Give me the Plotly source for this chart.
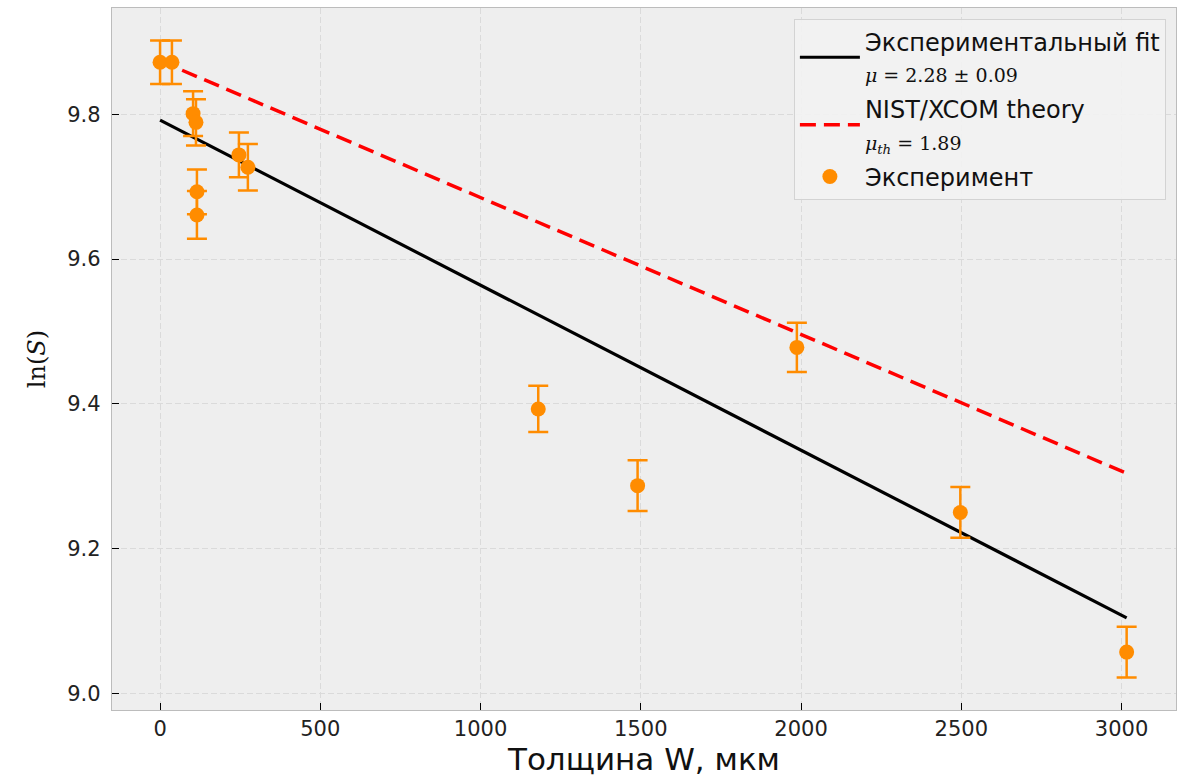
import plotly.graph_objects as go

# ---- data ----
thickness_um = [0, 37, 103, 112, 115, 115, 246, 274, 1180, 1490, 1987, 2497, 3016]
ln_S = [9.872, 9.872, 9.801, 9.789, 9.693, 9.661, 9.744, 9.727, 9.393, 9.287, 9.478, 9.250, 9.057]
ln_S_err = [0.030, 0.030, 0.031, 0.032, 0.031, 0.033, 0.031, 0.032, 0.032, 0.035, 0.034, 0.035, 0.035]

mu_fit = 2.28        # cm^-1
mu_fit_err = 0.09
fit_intercept = 9.792
mu_th = 1.89         # cm^-1
th_intercept = 9.874

line_x = [min(thickness_um), max(thickness_um)]
fit_y = [fit_intercept - mu_fit * 1e-4 * x for x in line_x]
th_y = [th_intercept - mu_th * 1e-4 * x for x in line_x]

x_ticks = [0, 500, 1000, 1500, 2000, 2500, 3000]
y_ticks = [9.0, 9.2, 9.4, 9.6, 9.8]

ORANGE = "#ff8c00"
MATH = "font-family:'DejaVu Serif';font-size:19px"

fig = go.Figure()
fig.add_trace(go.Scatter(
    x=line_x, y=fit_y, mode="lines", legendgroup="g1",
    line=dict(color="black", width=3.2),
    name=f"Экспериментальный fit<br><span style=\"{MATH}\"><i>μ</i> = {mu_fit:.2f} ± {mu_fit_err:.2f}</span>",
))
fig.add_trace(go.Scatter(
    x=line_x, y=th_y, mode="lines", legendgroup="g2",
    line=dict(color="#ff0000", width=3.5, dash="16px,8px"),
    name=f"NIST/XCOM theory<br><span style=\"{MATH}\"><i>μ<sub>th</sub></i> = {mu_th:.2f}</span>",
))
fig.add_trace(go.Scatter(
    x=thickness_um, y=ln_S, mode="markers", legendgroup="g3",
    marker=dict(color=ORANGE, size=15),
    error_y=dict(type="data", array=ln_S_err, visible=True, color=ORANGE, thickness=2.5, width=10),
    name="Эксперимент",
))

fig.update_layout(
    width=1188, height=783,
    margin=dict(l=112, r=12, t=8, b=73),
    paper_bgcolor="white",
    plot_bgcolor="#eeeeee",
    font=dict(family="DejaVu Sans", size=21, color="#222222"),
    showlegend=True,
    legend=dict(
        x=0.9905, xanchor="right", y=0.985, yanchor="top",
        bgcolor="rgba(241,241,241,0.95)", bordercolor="#d3d3d3", borderwidth=1,
        font=dict(family="DejaVu Sans", size=24, color="#111111"),
        itemwidth=60, tracegroupgap=2,
    ),
)
fig.update_xaxes(
    range=[-150, 3170], tickvals=x_ticks, ticktext=[str(v) for v in x_ticks],
    ticks="inside", ticklen=7, tickwidth=1.3, tickcolor="black",
    showline=True, mirror=True, linecolor="#bcbcbc", linewidth=1.3,
    showgrid=True, gridcolor="#dadada", griddash="6px,3px", gridwidth=1,
    zeroline=False,
    tickfont=dict(size=21, color="#222222"),
    title=dict(text="Толщина W, мкм", font=dict(size=31, color="#111111"), standoff=6),
)
fig.update_yaxes(
    range=[8.977, 9.947], tickvals=y_ticks, ticktext=[f"{v:.1f}" for v in y_ticks],
    ticks="inside", ticklen=7, tickwidth=1.3, tickcolor="black",
    showline=True, mirror=True, linecolor="#bcbcbc", linewidth=1.3,
    showgrid=True, gridcolor="#dadada", griddash="6px,3px", gridwidth=1,
    zeroline=False,
    tickfont=dict(size=21, color="#222222"),
    ticklabelstandoff=6,
    title=dict(text="ln(<i>S</i>)", font=dict(family="DejaVu Serif", size=24, color="#111111"), standoff=14),
)

fig.write_html("out.html")
